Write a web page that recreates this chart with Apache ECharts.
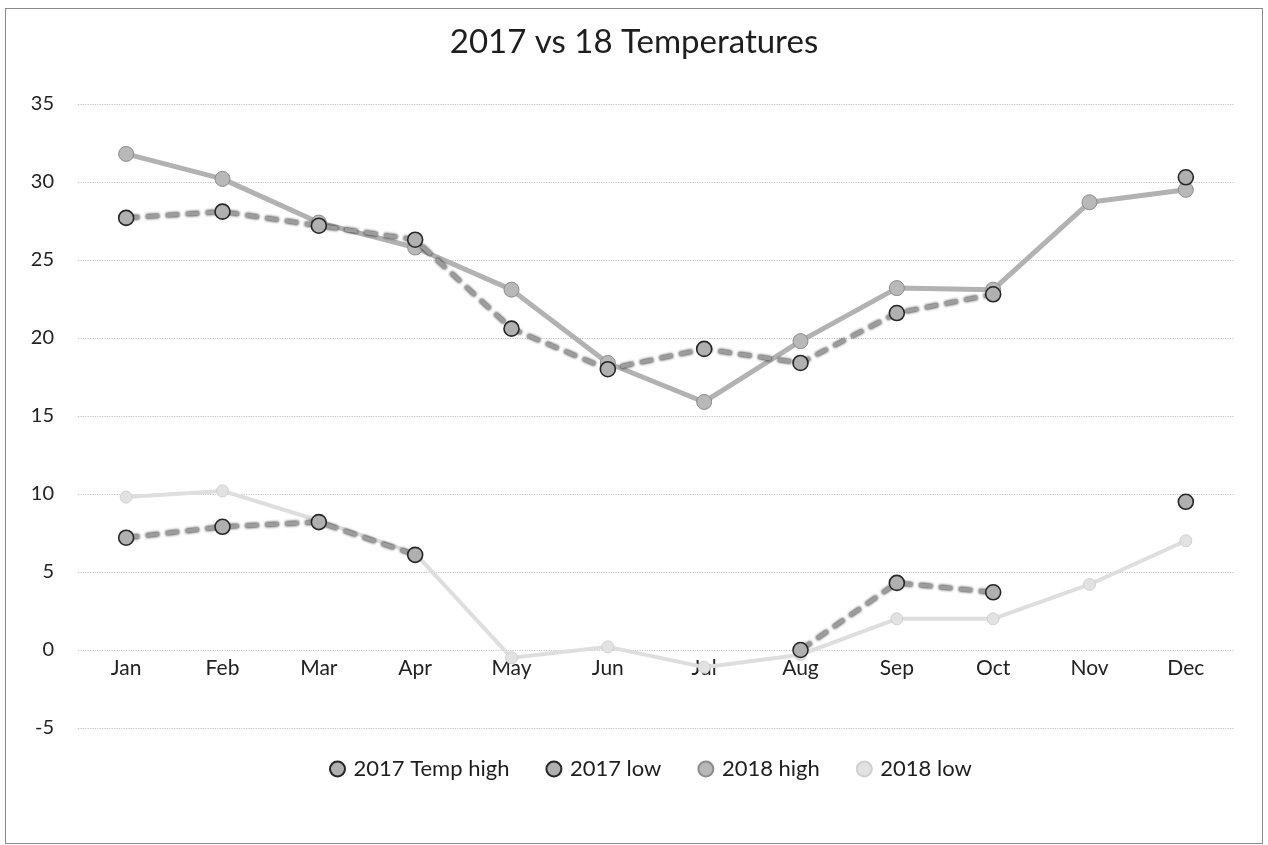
<!DOCTYPE html>
<html>
<head>
<meta charset="utf-8">
<script src="https://cdn.jsdelivr.net/npm/echarts@6/dist/echarts.min.js"></script>
<style>
  html, body { margin: 0; padding: 0; background: #fff; }
  #main { position: absolute; left: 5px; top: 8px; width: 1256px; height: 834px; border: 1px solid #8a8a8a; }
</style>
</head>
<body>
<div id="main"></div>
<script>
// values (°C)
const months = ['Jan', 'Feb', 'Mar', 'Apr', 'May', 'Jun', 'Jul', 'Aug', 'Sep', 'Oct', 'Nov', 'Dec'];
const high2017 = [27.7, 28.1, 27.2, 26.3, 20.6, 18.0, 19.3, 18.4, 21.6, 22.8, null, 30.3];
const low2017 = [7.2, 7.9, 8.2, 6.1, null, null, null, 0.0, 4.3, 3.7, null, 9.5];
const high2018 = [31.8, 30.2, 27.4, 25.8, 23.1, 18.4, 15.9, 19.8, 23.2, 23.1, 28.7, 29.5];
const low2018 = [9.8, 10.2, 8.3, 6.2, -0.5, 0.2, -1.1, -0.3, 2.0, 2.0, 4.2, 7.0];
const yTicks = { min: -5, max: 35, step: 5 };

const chart = echarts.init(document.getElementById('main'));
const font = 'Lato, "Open Sans", sans-serif';

function dashedOutline(name, data) {
    return {
        name: name,
        type: 'line',
        data: data,
        connectNulls: false,
        symbol: 'circle',
        symbolSize: 15,
        itemStyle: { color: '#b0b0b0', borderColor: '#262626', borderWidth: 1.6 },
        lineStyle: {
            color: '#9c9c9c', width: 4, type: [13, 7],
            shadowColor: 'rgba(0,0,0,1)', shadowBlur: 3
        },
        z: 3
    };
}

chart.setOption({
    animation: false,
    title: {
        text: '2017 vs 18 Temperatures',
        left: 'center',
        top: 12,
        textStyle: { fontFamily: font, fontSize: 33, fontWeight: 'normal', color: '#1e1e1e' }
    },
    legend: {
        bottom: 58,
        left: 318,
        itemGap: 36,
        itemWidth: 22,
        itemHeight: 15,
        textStyle: { fontFamily: font, fontSize: 22, color: '#1e1e1e' },
        data: [
            { name: '2017 Temp high', icon: 'circle' },
            { name: '2017 low', icon: 'circle' },
            { name: '2018 high', icon: 'circle' },
            { name: '2018 low', icon: 'circle' }
        ]
    },
    grid: { left: 72, right: 28, top: 95, bottom: 115 },
    xAxis: {
        type: 'category',
        data: months,
        boundaryGap: true,
        axisLine: { show: false, onZero: false },
        axisTick: { show: false },
        // Excel puts the category labels under the 0 line
        axisLabel: { fontFamily: font, fontSize: 21, color: '#222', margin: -70 }
    },
    yAxis: {
        type: 'value',
        min: yTicks.min,
        max: yTicks.max,
        interval: yTicks.step,
        axisLine: { show: false },
        axisTick: { show: false },
        axisLabel: { fontFamily: font, fontSize: 20, color: '#222', margin: 24 },
        splitLine: { lineStyle: { color: '#c4c4c4', type: 'dotted', width: 1.2 } }
    },
    series: [
        dashedOutline('2017 Temp high', high2017),
        dashedOutline('2017 low', low2017),
        {
            name: '2018 high',
            type: 'line',
            data: high2018,
            symbol: 'circle',
            symbolSize: 15,
            itemStyle: { color: '#b8b8b8', borderColor: '#8c8c8c', borderWidth: 1 },
            lineStyle: { color: '#b2b2b2', width: 5 },
            z: 2
        },
        {
            name: '2018 low',
            type: 'line',
            data: low2018,
            symbol: 'circle',
            symbolSize: 12,
            itemStyle: { color: '#e2e2e2', borderColor: '#d0d0d0', borderWidth: 1 },
            lineStyle: { color: '#dedede', width: 4 },
            z: 1
        }
    ]
});
</script>
</body>
</html>
